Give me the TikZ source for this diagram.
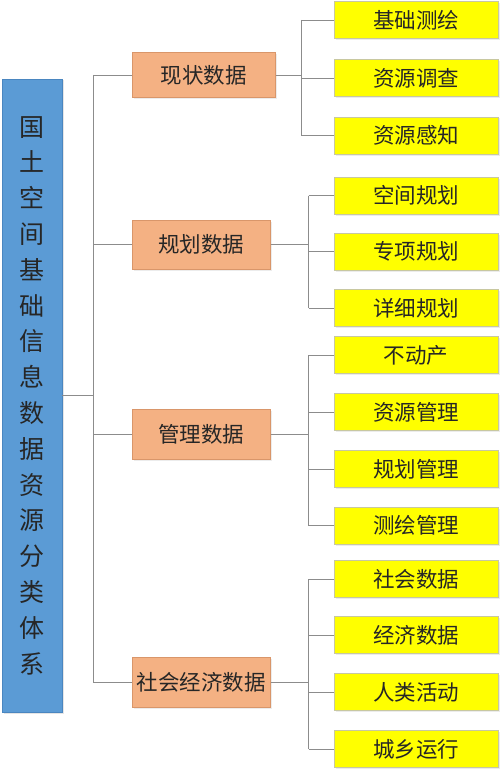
\documentclass[tikz,border=0pt]{standalone}
\usepackage{fontspec}
\newfontfamily\cjk{Noto Sans CJK SC}
\usetikzlibrary{shadows}
\definecolor{bluefill}{HTML}{5B9BD5}
\definecolor{blueedge}{HTML}{4A86C0}
\definecolor{orangefill}{HTML}{F4B183}
\definecolor{orangeedge}{HTML}{D9966A}
\definecolor{yellowfill}{HTML}{FFFF00}
\definecolor{yellowedge}{HTML}{C8C8A0}
\definecolor{linegray}{HTML}{8C8C8C}
\tikzset{
  rootbox/.style={draw=blueedge, line width=0.8pt, fill=bluefill, minimum width=60pt, minimum height=633pt, inner sep=0pt,
    drop shadow={shadow xshift=1.5pt, shadow yshift=-1.5pt, fill=black!20}, align=center,
    font=\cjk\fontsize{25}{35.8}\selectfont, text=black!85},
  midbox/.style={draw=orangeedge, line width=0.8pt, fill=orangefill, minimum height=48pt, inner sep=0pt, anchor=west,
    drop shadow={shadow xshift=1.5pt, shadow yshift=-1.5pt, fill=black!15},
    font=\cjk\fontsize{21.5}{24}\selectfont, text=black!85},
  leafbox/.style={draw=yellowedge, line width=0.8pt, fill=yellowfill, minimum width=164pt, minimum height=37pt, inner sep=0pt,
    drop shadow={shadow xshift=1.5pt, shadow yshift=-1.5pt, fill=black!15},
    font=\cjk\fontsize{21.5}{24}\selectfont, text=black!85},
  conn/.style={draw=linegray, line width=0.9pt}
}
\begin{document}
\begin{tikzpicture}[x=1pt,y=-1pt]
\useasboundingbox (0,0) rectangle (500,773);
% root
\node[rootbox] (root) at (32,395.5) {国\\土\\空\\间\\基\\础\\信\\息\\数\\据\\资\\源\\分\\类\\体\\系};
% middle
\node[midbox, minimum width=143pt, minimum height=45pt] (o1) at (132,75) {现状数据};
\node[midbox, minimum width=138pt, minimum height=49pt] (o2) at (132,244.5) {规划数据};
\node[midbox, minimum width=138pt, minimum height=50pt] (o3) at (132,434) {管理数据};
\node[midbox, minimum width=138pt, minimum height=50pt] (o4) at (132,682.5) {社会经济数据};
% leaves
\node[leafbox] (y1) at (416,20) {基础测绘};
\node[leafbox] (y2) at (416,78) {资源调查};
\node[leafbox] (y3) at (416,135.5) {资源感知};
\node[leafbox] (y4) at (416,195.5) {空间规划};
\node[leafbox] (y5) at (416,251.5) {专项规划};
\node[leafbox] (y6) at (416,308) {详细规划};
\node[leafbox] (y7) at (416,355) {不动产};
\node[leafbox] (y8) at (416,412) {资源管理};
\node[leafbox] (y9) at (416,469) {规划管理};
\node[leafbox] (y10) at (416,525.7) {测绘管理};
\node[leafbox] (y11) at (416,579) {社会数据};
\node[leafbox] (y12) at (416,635) {经济数据};
\node[leafbox] (y13) at (416,692) {人类活动};
\node[leafbox] (y14) at (416,749) {城乡运行};
% trunk coordinates
\coordinate (t0) at (93,395.7);
\coordinate (g1) at (301.5,0);
\coordinate (g2) at (308.5,0);
% root connectors
\draw[conn] (root.east |- t0) -- (t0);
\draw[conn] (o1.west -| t0) -- (o4.west -| t0);
\foreach \o in {o1,o2,o3,o4} \draw[conn] (\o.west -| t0) -- (\o.west);
% group 1
\draw[conn] (o1.east) -- (o1.east -| g1);
\draw[conn] (y1.west -| g1) -- (y3.west -| g1);
\foreach \y in {y1,y2,y3} \draw[conn] (\y.west -| g1) -- (\y.west);
% group 2
\draw[conn] (o2.east) -- (o2.east -| g2);
\draw[conn] (y4.west -| g2) -- (y6.west -| g2);
\foreach \y in {y4,y5,y6} \draw[conn] (\y.west -| g2) -- (\y.west);
% group 3
\draw[conn] (o3.east) -- (o3.east -| g2);
\draw[conn] (y7.west -| g2) -- (y10.west -| g2);
\foreach \y in {y7,y8,y9,y10} \draw[conn] (\y.west -| g2) -- (\y.west);
% group 4
\draw[conn] (o4.east) -- (o4.east -| g2);
\draw[conn] (y11.west -| g2) -- (y14.west -| g2);
\foreach \y in {y11,y12,y13,y14} \draw[conn] (\y.west -| g2) -- (\y.west);
\end{tikzpicture}
\end{document}
